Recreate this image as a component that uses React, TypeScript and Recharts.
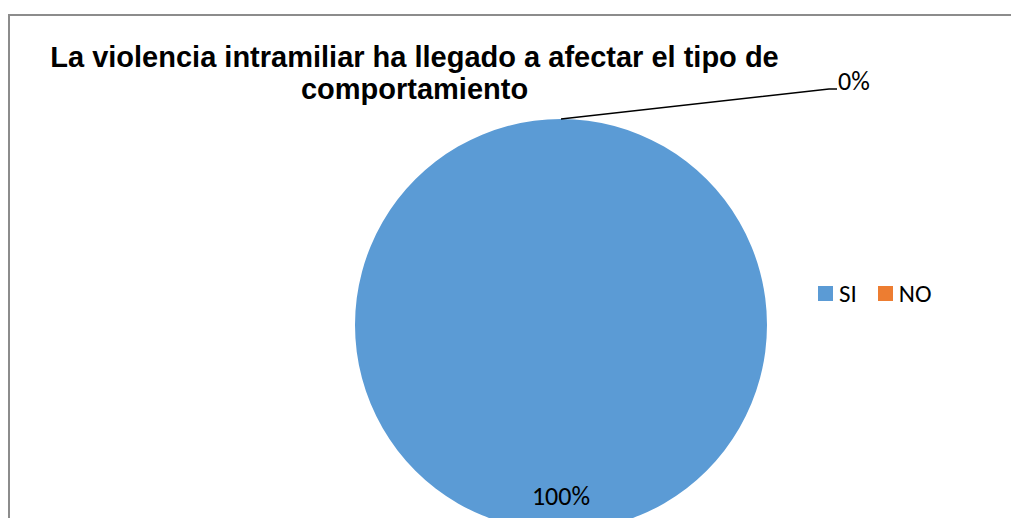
import React from "react";
import { PieChart, Pie, Cell, Legend } from "recharts";

const categories = ["SI", "NO"];
const values = [100, 0];
const percentLabels = ["100%", "0%"];
const colors = ["#5B9BD5", "#ED7D31"];
const titleLines = ["La violencia intramiliar ha llegado a afectar el tipo de", "comportamiento"];

const data = categories.map((name, i) => ({ name, value: values[i], label: percentLabels[i] }));

const RAD = Math.PI / 180;
const LABEL_FONT = "Carlito, 'Noto Sans', sans-serif";

const renderLabel = (props: any) => {
  const { cx, cy, midAngle, outerRadius, index } = props;
  const text = percentLabels[index];
  if (values[index] === 0) {
    const x0 = cx + outerRadius * Math.cos(-midAngle * RAD);
    const y0 = cy + outerRadius * Math.sin(-midAngle * RAD);
    const x1 = x0 + 268;
    const y1 = y0 - 30;
    const x2 = x1 + 8;
    return (
      <g key={`l${index}`}>
        <polyline points={`${x0},${y0} ${x1},${y1} ${x2},${y1}`} fill="none" stroke="#000" strokeWidth={1.3} />
        <text x={x2 + 1} y={y1 + 1} fill="#000" fontSize={26} fontFamily={LABEL_FONT} textAnchor="start">
          {text}
        </text>
      </g>
    );
  }
  const r = outerRadius * 0.83;
  const x = cx + r * Math.cos(-midAngle * RAD);
  const y = cy + r * Math.sin(-midAngle * RAD);
  return (
    <text key={`l${index}`} x={x} y={y} fill="#000" fontSize={26} fontFamily={LABEL_FONT} textAnchor="middle" dominantBaseline="central">
      {text}
    </text>
  );
};

const renderLegend = (props: any) => {
  const payload: any[] = props.payload || [];
  const ordered = categories
    .map((c) => payload.find((p) => p.value === c))
    .filter(Boolean);
  return (
    <div style={{ display: "flex", alignItems: "center", fontFamily: LABEL_FONT, fontSize: 25, color: "#000" }}>
      {ordered.map((p: any) => (
        <div key={p.value} style={{ display: "flex", alignItems: "center", marginRight: 21 }}>
          <span style={{ display: "inline-block", width: 15, height: 15, background: p.color, marginRight: 6 }} />
          <span style={{ lineHeight: "25px" }}>{p.value}</span>
        </div>
      ))}
    </div>
  );
};

export default function App() {
  return (
    <div style={{ position: "fixed", left: 0, top: 0, width: 1011, height: 518, overflow: "hidden", background: "#fff" }}>
      <div
        style={{
          position: "absolute",
          left: 8,
          top: 14,
          width: 1100,
          height: 600,
          borderTop: "2px solid #8c8c8c",
          borderLeft: "2px solid #8c8c8c",
          boxSizing: "border-box",
        }}
      />
      <div
        style={{
          position: "absolute",
          left: 0,
          top: 41,
          width: 829,
          textAlign: "center",
          fontFamily: "'Liberation Sans', Arial, sans-serif",
          fontWeight: "bold",
          fontSize: 29,
          lineHeight: "32px",
          color: "#000",
          whiteSpace: "nowrap",
        }}
      >
        {titleLines.map((t, i) => (
          <div key={i}>{t}</div>
        ))}
      </div>
      <div style={{ position: "absolute", left: 0, top: 0 }}>
        <PieChart width={1011} height={518}>
          <Pie
            data={data}
            dataKey="value"
            nameKey="name"
            cx={556}
            cy={320}
            outerRadius={206}
            startAngle={90}
            endAngle={-270}
            stroke="none"
            isAnimationActive={false}
            label={renderLabel}
            labelLine={false}
          >
            {data.map((d, i) => (
              <Cell key={d.name} fill={colors[i]} />
            ))}
          </Pie>
          <Legend
            content={renderLegend}
            wrapperStyle={{ position: "absolute", left: 818, top: 281, width: 170 }}
          />
        </PieChart>
      </div>
    </div>
  );
}
